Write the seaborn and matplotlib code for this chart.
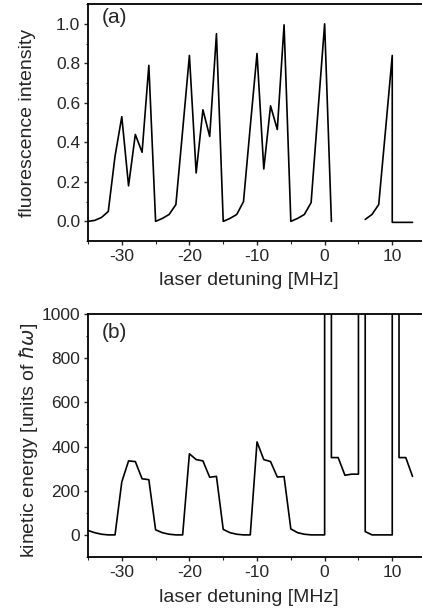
"""
Fluorescence intensity and kinetic energy versus laser detuning (two stacked panels).
"""

import matplotlib
matplotlib.use("Agg")
import matplotlib.pyplot as plt
from matplotlib.ticker import MultipleLocator
import seaborn as sns
import numpy as np
import pandas as pd

sns.set_style("ticks")
plt.rcParams['font.family'] = ['Liberation Sans', 'DejaVu Sans']
plt.rcParams['axes.unicode_minus'] = False

# ---- data ----
# panel (a): fluorescence intensity, two segments (gap between 1 and 6 MHz)
det_a = [-35, -34, -33, -32, -31, -30, -29, -28, -27, -26,
         -25, -24, -23, -22, -21, -20, -19, -18, -17, -16,
         -15, -14, -13, -12, -11, -10, -9, -8, -7, -6,
         -5, -4, -3, -2, -1, 0, 1,
         6, 7, 8, 9, 10, 10, 11, 12, 13]
fluo = [0.00, 0.005, 0.02, 0.05, 0.33, 0.53, 0.18, 0.44, 0.35, 0.79,
        0.00, 0.015, 0.035, 0.085, 0.46, 0.84, 0.245, 0.565, 0.43, 0.95,
        0.00, 0.015, 0.035, 0.10, 0.48, 0.85, 0.265, 0.585, 0.465, 0.995,
        0.00, 0.015, 0.035, 0.095, 0.55, 1.00, 0.00,
        0.01, 0.035, 0.085, 0.46, 0.84, -0.005, -0.005, -0.005, -0.005]
seg_a = [0] * 37 + [1] * 9

# panel (b): kinetic energy, 1200 = off scale (above 1000)
det_b = [-35, -34, -33, -32, -31, -30, -29, -28, -27, -26,
         -25, -24, -23, -22, -21, -20, -19, -18, -17, -16,
         -15, -14, -13, -12, -11, -10, -9, -8, -7, -6,
         -5, -4, -3, -2, -1, 0, 0, 1, 1, 2, 3, 4, 5, 5,
         6, 6, 7, 8, 9, 10, 10, 11, 11, 12, 13]
energy = [20, 10, 3, 0, 0, 240, 335, 332, 254, 250,
          23, 10, 3, 0, 0, 367, 341, 335, 261, 265,
          25, 10, 3, 0, 0, 421, 341, 332, 262, 264,
          27, 10, 3, 0, 0, 0, 1200, 1200, 350, 350, 270, 275, 275, 1200,
          1200, 15, 0, 0, 0, 0, 1200, 1200, 350, 350, 265]

df_a = pd.DataFrame({'detuning': det_a, 'intensity': fluo, 'seg': seg_a})
df_b = pd.DataFrame({'detuning': det_b, 'energy': energy, 'seg': 0})

fig = plt.figure(figsize=(4.22, 6.12), dpi=100)
ax1 = fig.add_axes([0.2085, 0.606, 0.7915, 0.3873])
ax2 = fig.add_axes([0.2085, 0.0899, 0.7915, 0.397])

sns.lineplot(data=df_a, x='detuning', y='intensity', units='seg', estimator=None,
             sort=False, color='black', linewidth=1.2, ax=ax1)
sns.lineplot(data=df_b, x='detuning', y='energy', units='seg', estimator=None,
             sort=False, color='black', linewidth=1.2, ax=ax2)

ax1.set_ylim(-0.1, 1.1)
ax1.yaxis.set_major_locator(MultipleLocator(0.2))
ax1.yaxis.set_minor_locator(MultipleLocator(0.1))
ax1.yaxis.set_major_formatter(matplotlib.ticker.FormatStrFormatter('%.1f'))
ax1.set_ylabel('fluorescence intensity', fontsize=14)
ax1.yaxis.set_label_coords(-0.155, 0.5)

ax2.set_ylim(-100, 1000)
ax2.yaxis.set_major_locator(MultipleLocator(200))
ax2.yaxis.set_minor_locator(MultipleLocator(100))
ax2.set_ylabel(r'kinetic energy [units of $\hbar\omega$]', fontsize=14)
ax2.yaxis.set_label_coords(-0.145, 0.48)

for ax, tag, ty in [(ax1, '(a)', 0.985), (ax2, '(b)', 0.965)]:
    ax.set_xlim(-35, 14.4)
    ax.xaxis.set_major_locator(MultipleLocator(10))
    ax.xaxis.set_minor_locator(MultipleLocator(5))
    ax.set_xlabel('laser detuning [MHz]', fontsize=14)
    ax.xaxis.set_label_coords(0.482, -0.13)
    ax.tick_params(which='major', direction='out', length=3, width=1,
                   labelsize=12.5, pad=2.5)
    ax.tick_params(which='minor', direction='out', length=1.8, width=0.8)
    for side in ['left', 'bottom', 'top']:
        ax.spines[side].set_visible(True)
        ax.spines[side].set_linewidth(1.3)
        ax.spines[side].set_color('black')
    ax.spines['right'].set_visible(False)
    ax.text(0.04, ty, tag, transform=ax.transAxes, fontsize=15,
            va='top', ha='left')

plt.savefig('out.png', dpi=100)
